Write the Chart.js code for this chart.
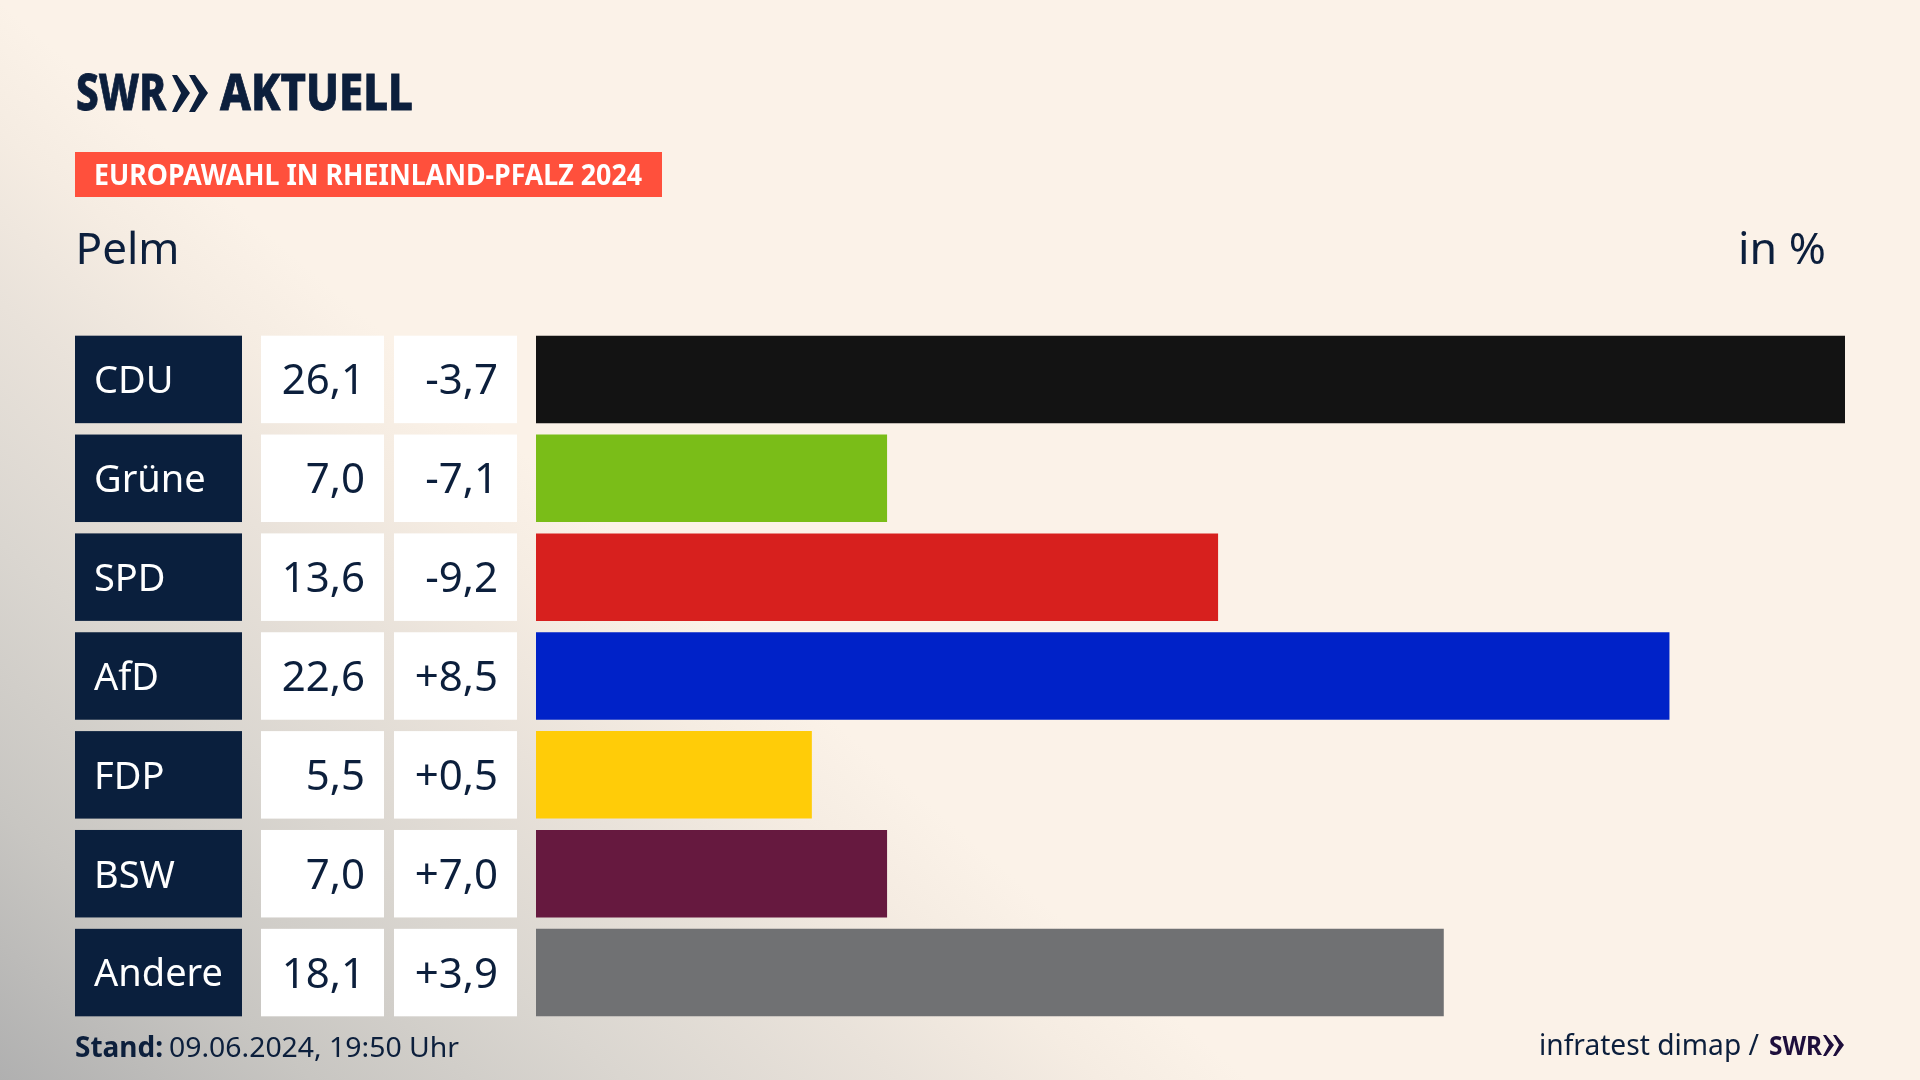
<!DOCTYPE html>
<html lang="de">
<head>
<meta charset="utf-8">
<title>Europawahl in Rheinland-Pfalz 2024 - Pelm</title>
<script src="https://cdn.jsdelivr.net/npm/chart.js@4"></script>
<style>
    html, body { margin: 0; padding: 0; width: 1920px; height: 1080px; overflow: hidden; }
    body {
        background: linear-gradient(40.8deg,
            #b0b0b0 0%, #c8c6c2 9.9%, #dad6d0 19.7%, #e9e2da 28.4%, #f5ece2 34.7%, #fbf2e8 39.4%);
    }
    #chart { position: absolute; left: 0; top: 0; }
    #overlay { position: absolute; left: 0; top: 0; }
    #overlay text { font-family: "Noto Sans", sans-serif; fill: #0c1f3c; }
    #overlay .bold { font-weight: 700; }
    #overlay .logo { font-weight: 800; stroke: #0c1f3c; stroke-width: 0.8px; }
</style>
</head>
<body>
<canvas id="chart" width="1920" height="1080"></canvas>

<svg id="overlay" width="1920" height="1080" viewBox="0 0 1920 1080">
    <!-- Logo -->
    <text class="logo" x="76" y="110" font-size="49" textLength="90" lengthAdjust="spacingAndGlyphs">SWR</text>
    <polygon points="172,75 177,75 190,93 177,112 172,112 181,93" fill="#0c1f3c"/>
    <polygon points="189,75 195,75 208,93 195,112 189,112 199,93" fill="#0c1f3c"/>
    <text class="logo" x="220" y="110" font-size="49" textLength="193" lengthAdjust="spacingAndGlyphs">AKTUELL</text>

    <!-- Banner -->
    <rect x="75" y="152" width="587" height="45" fill="#ff503c"/>
    <text class="bold" x="94" y="185" font-size="28" textLength="548" lengthAdjust="spacingAndGlyphs" style="fill:#fff">EUROPAWAHL IN RHEINLAND-PFALZ 2024</text>

    <!-- Headings -->
    <text x="75.5" y="264" font-size="44" textLength="104" lengthAdjust="spacingAndGlyphs">Pelm</text>
    <text x="1738" y="264" font-size="44" textLength="88" lengthAdjust="spacingAndGlyphs">in %</text>

    <!-- Footer -->
    <text class="bold" x="75" y="1057" font-size="28" textLength="88" lengthAdjust="spacingAndGlyphs">Stand:</text>
    <text x="169" y="1057" font-size="28" textLength="290" lengthAdjust="spacingAndGlyphs">09.06.2024, 19:50 Uhr</text>
    <text x="1539" y="1055" font-size="29" textLength="220" lengthAdjust="spacingAndGlyphs">infratest dimap /</text>
    <text class="bold" x="1769" y="1055" font-size="27" textLength="53" lengthAdjust="spacingAndGlyphs" style="fill:#1e0f3c">SWR</text>
    <polygon points="1823,1035 1826,1035 1834,1045 1826,1056 1823,1056 1829,1045" fill="#1e0f3c"/>
    <polygon points="1833,1035 1836,1035 1844,1045 1836,1056 1833,1056 1839,1045" fill="#1e0f3c"/>
</svg>

<script>
// Chart data
const parties = ['CDU', 'Grüne', 'SPD', 'AfD', 'FDP', 'BSW', 'Andere'];
const shares = [26.1, 7.0, 13.6, 22.6, 5.5, 7.0, 18.1];
const changes = [-3.7, -7.1, -9.2, 8.5, 0.5, 7.0, 3.9];
const partyColors = ['#131313', '#7abd18', '#d7201e', '#0022c8', '#ffcc08', '#66193f', '#707173'];

const NAVY = '#0c1f3c';
const CELL_FONT = '42px "Noto Sans", sans-serif';

// German number format with a comma
function formatShare(value) {
    return value.toFixed(1).replace('.', ',');
}

function formatChange(value) {
    return (value > 0 ? '+' : '') + formatShare(value);
}

// Draws the name, share and change cells left of the bars, one per category
const tableCells = {
    id: 'tableCells',
    beforeDraw(chart) {
        const { ctx, scales: { y } } = chart;
        const meta = chart.getDatasetMeta(0);

        ctx.save();
        meta.data.forEach((bar, i) => {
            const center = y.getPixelForValue(i);
            const top = center - bar.height / 2;

            ctx.fillStyle = '#0a1f3d';
            ctx.fillRect(75, top, 167, bar.height);
            ctx.fillStyle = '#ffffff';
            ctx.fillRect(261, top, 123, bar.height);
            ctx.fillRect(394, top, 123, bar.height);

            ctx.fillStyle = NAVY;
            ctx.font = CELL_FONT;
            ctx.textAlign = 'right';
            ctx.textBaseline = 'middle';
            ctx.fillText(formatShare(shares[i]), 365, center + 3);
            ctx.fillText(formatChange(changes[i]), 498, center + 3);
        });
        ctx.restore();
    }
};

new Chart(document.getElementById('chart').getContext('2d'), {
    type: 'bar',
    plugins: [tableCells],
    data: {
        labels: parties,
        datasets: [{
            data: shares,
            backgroundColor: partyColors,
            barPercentage: 0.885,
            categoryPercentage: 1
        }]
    },
    options: {
        indexAxis: 'y',
        responsive: false,
        animation: false,
        devicePixelRatio: 1,
        layout: { padding: { left: 94, right: 75, top: 330, bottom: 58 } },
        plugins: {
            legend: { display: false },
            tooltip: { enabled: false }
        },
        scales: {
            x: { display: false, min: 0, max: 26.1 },
            y: {
                afterFit: scale => { scale.width = 442; },
                grid: { display: false, drawTicks: false },
                border: { display: false },
                ticks: {
                    autoSkip: false,
                    crossAlign: 'far',
                    labelOffset: 3,
                    color: '#ffffff',
                    font: { family: '"Noto Sans", sans-serif', size: 38 }
                }
            }
        }
    }
});
</script>
</body>
</html>
